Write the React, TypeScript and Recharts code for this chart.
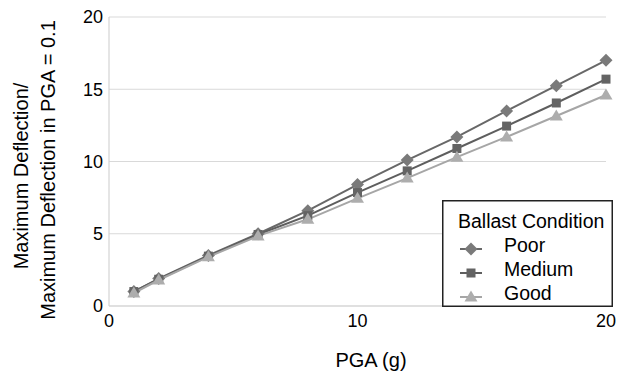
import { LineChart, Line, XAxis, YAxis, CartesianGrid, Legend } from "recharts";

const font = "'Liberation Sans', Arial, sans-serif";

// PGA (g) values along the x axis
const pga = [1, 2, 4, 6, 8, 10, 12, 14, 16, 18, 20];

// normalised maximum deflection for each ballast condition
const poor = [1.0, 1.9, 3.5, 5.0, 6.6, 8.4, 10.1, 11.7, 13.5, 15.25, 17.0];
const medium = [1.0, 1.85, 3.45, 4.95, 6.25, 7.85, 9.35, 10.9, 12.45, 14.05, 15.7];
const good = [0.9, 1.8, 3.4, 4.85, 6.0, 7.45, 8.85, 10.3, 11.7, 13.15, 14.6];

const xTicks = [0, 10, 20];
const yTicks = [0, 5, 10, 15, 20];

const data = pga.map((x, i) => ({ x, poor: poor[i], medium: medium[i], good: good[i] }));

const series = [
  { key: "poor", name: "Poor", shape: "diamond", stroke: "#686868", fill: "#7a7a7a" },
  { key: "medium", name: "Medium", shape: "square", stroke: "#5e5e5e", fill: "#646464" },
  { key: "good", name: "Good", shape: "triangle", stroke: "#a6a6a6", fill: "#adadad" },
];

function Marker({ cx, cy, shape, fill }: { cx: number; cy: number; shape: string; fill: string }) {
  if (shape === "diamond") {
    return <path d={`M${cx},${cy - 6.5}L${cx + 6.5},${cy}L${cx},${cy + 6.5}L${cx - 6.5},${cy}Z`} fill={fill} />;
  }
  if (shape === "square") {
    return <rect x={cx - 4.5} y={cy - 4.5} width={9} height={9} fill={fill} />;
  }
  return <path d={`M${cx},${cy - 6.5}L${cx + 6.5},${cy + 4.5}L${cx - 6.5},${cy + 4.5}Z`} fill={fill} />;
}

// legend box: 170 x 106, sits on the x axis in the lower right corner
function LegendBox() {
  return (
    <svg width={171} height={107} style={{ display: "block" }}>
      <rect x={0.75} y={0.75} width={169.5} height={105.5} fill="#fff" stroke="#222" strokeWidth={1.5} />
      <text x={16} y={28} fontSize={19.5} fontFamily={font} fill="#000">
        Ballast Condition
      </text>
      {series.map((s, i) => {
        const base = 52 + i * 24;
        const cy = base - 3;
        return (
          <g key={s.key}>
            <line x1={18} x2={40} y1={cy} y2={cy} stroke={s.stroke} strokeWidth={2} />
            <Marker cx={29} cy={cy} shape={s.shape} fill={s.fill} />
            <text x={62} y={base} fontSize={19.5} fontFamily={font} fill="#000">
              {s.name}
            </text>
          </g>
        );
      })}
    </svg>
  );
}

export default function App() {
  return (
    <div style={{ position: "absolute", left: 0, top: 0, width: 622, height: 371, background: "#fff" }}>
      <LineChart width={622} height={371} data={data} margin={{ top: 17, right: 16, left: 0, bottom: 0 }}>
        <CartesianGrid vertical={false} stroke="#d9d9d9" strokeWidth={1.2} />
        <XAxis
          dataKey="x"
          type="number"
          domain={[0, 20]}
          ticks={xTicks}
          height={65}
          tickLine={false}
          axisLine={{ stroke: "#d4d4d4", strokeWidth: 1.2 }}
          tick={{ fontSize: 18, fontFamily: font, fill: "#000" }}
        />
        <YAxis
          type="number"
          domain={[0, 20]}
          ticks={yTicks}
          width={109}
          tickLine={false}
          tickSize={4}
          tickMargin={2}
          axisLine={{ stroke: "#d4d4d4", strokeWidth: 1.2 }}
          tick={{ fontSize: 18, fontFamily: font, fill: "#000" }}
        />
        {series.map((s) => (
          <Line
            key={s.key}
            dataKey={s.key}
            name={s.name}
            type="linear"
            stroke={s.stroke}
            strokeWidth={2}
            isAnimationActive={false}
            dot={(p: any) => (
              <Marker key={`${s.key}-${p.index}`} cx={p.cx} cy={p.cy} shape={s.shape} fill={s.fill} />
            )}
          />
        ))}
        <Legend
          layout="vertical"
          align="center"
          verticalAlign="middle"
          content={() => <LegendBox />}
          wrapperStyle={{ position: "absolute", left: 442, top: 200, width: 171, height: 107 }}
        />
        <text
          transform="translate(28,176) rotate(-90)"
          textAnchor="middle"
          fontSize={20}
          fontFamily={font}
          fill="#000"
        >
          Maximum Deflection/
        </text>
        <text
          transform="translate(55,170) rotate(-90)"
          textAnchor="middle"
          fontSize={20}
          fontFamily={font}
          fill="#000"
        >
          Maximum Deflection in PGA = 0.1
        </text>
        <text x={371} y={367} textAnchor="middle" fontSize={20} fontFamily={font} fill="#000">
          PGA (g)
        </text>
      </LineChart>
    </div>
  );
}
